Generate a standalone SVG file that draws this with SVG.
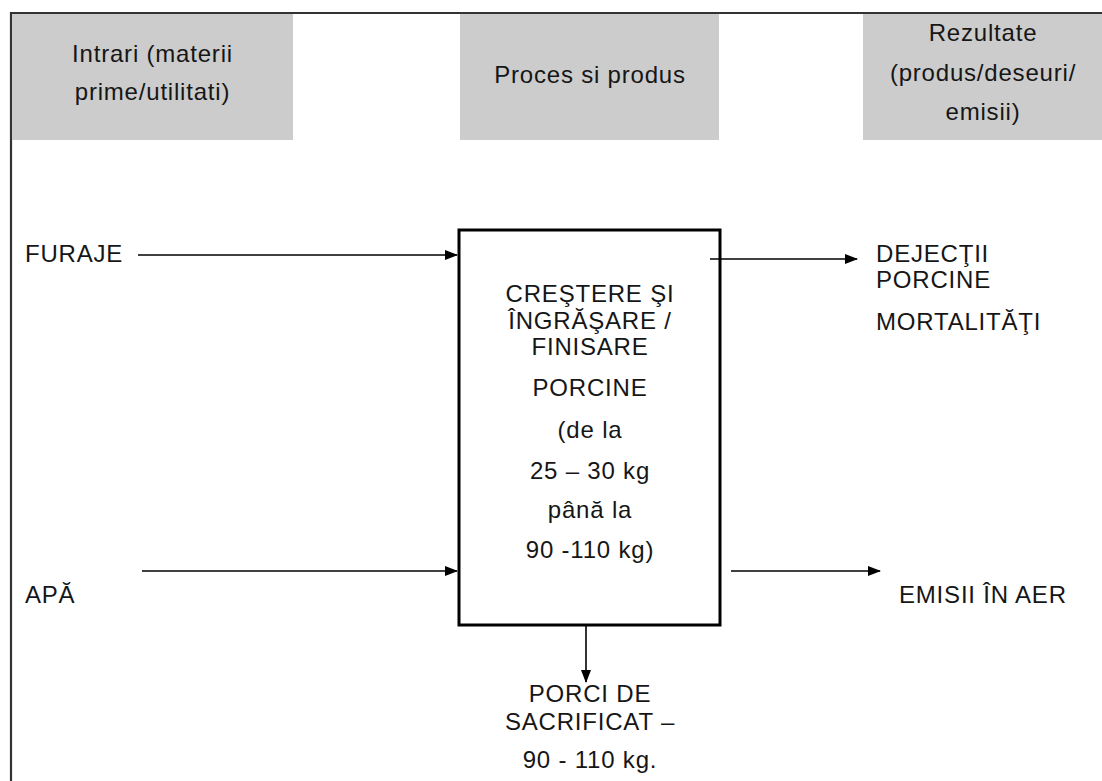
<svg xmlns="http://www.w3.org/2000/svg" width="1102" height="781" viewBox="0 0 1102 781">
<style>
.t{font-family:"Liberation Sans",Arial,sans-serif;font-size:24px;fill:#161616;letter-spacing:0.8px}
.c{text-anchor:middle}
.hdr{fill:#cccccc}
.ln{stroke:#000;stroke-width:1.6;fill:none}
</style>
<defs>
<marker id="ah" markerWidth="13" markerHeight="10" refX="12" refY="5" orient="auto" markerUnits="userSpaceOnUse">
<path d="M0,0 L13,5 L0,10 Z" fill="#000"/>
</marker>
</defs>
<rect width="1102" height="781" fill="#fff"/>
<g id="frame">
<path d="M11,781 V13 H1102" stroke="#333" stroke-width="2.2" fill="none"/>
</g>
<g id="header-inputs">
<rect class="hdr" x="12" y="14" width="281" height="126"/>
<text class="t c" x="152.5" y="62">Intrari (materii</text>
<text class="t c" x="152.5" y="100">prime/utilitati)</text>
</g>
<g id="header-process">
<rect class="hdr" x="460" y="14" width="259" height="126"/>
<text class="t c" x="590" y="83">Proces si produs</text>
</g>
<g id="header-results">
<rect class="hdr" x="863" y="14" width="239" height="126"/>
<text class="t c" x="983" y="41">Rezultate</text>
<text class="t c" x="983" y="81">(produs/deseuri/</text>
<text class="t c" x="983" y="120">emisii)</text>
</g>
<g id="process">
<rect x="459" y="230" width="261" height="395" fill="#fff" stroke="#000" stroke-width="3"/>
<text class="t c" x="590" y="302">CREŞTERE ŞI</text>
<text class="t c" x="590" y="329">ÎNGRĂŞARE /</text>
<text class="t c" x="590" y="355">FINISARE</text>
<text class="t c" x="590" y="396">PORCINE</text>
<text class="t c" x="590" y="438">(de la</text>
<text class="t c" x="590" y="479">25 – 30 kg</text>
<text class="t c" x="590" y="518">până la</text>
<text class="t c" x="590" y="558">90 -110 kg)</text>
</g>
<g id="furaje">
<text class="t" x="25" y="262">FURAJE</text>
</g>
<g id="apa">
<text class="t" x="25" y="603">APĂ</text>
</g>
<g id="dejectii">
<text class="t" x="876" y="262">DEJECŢII</text>
<text class="t" x="876" y="288">PORCINE</text>
<text class="t" x="876" y="330">MORTALITĂŢI</text>
</g>
<g id="emisii">
<text class="t" x="899" y="603">EMISII ÎN AER</text>
</g>
<g id="porci">
<text class="t c" x="590" y="702">PORCI DE</text>
<text class="t c" x="590" y="730">SACRIFICAT –</text>
<text class="t c" x="590" y="768">90 - 110 kg.</text>
</g>
<g id="connectors">
<line class="ln" x1="138" y1="255" x2="457" y2="255" marker-end="url(#ah)"/>
<line class="ln" x1="142" y1="571" x2="457" y2="571" marker-end="url(#ah)"/>
<line class="ln" x1="710" y1="259" x2="857" y2="259" marker-end="url(#ah)"/>
<line class="ln" x1="731" y1="571" x2="880" y2="571" marker-end="url(#ah)"/>
<line class="ln" x1="586" y1="626" x2="586" y2="682" marker-end="url(#ah)"/>
</g>
</svg>
